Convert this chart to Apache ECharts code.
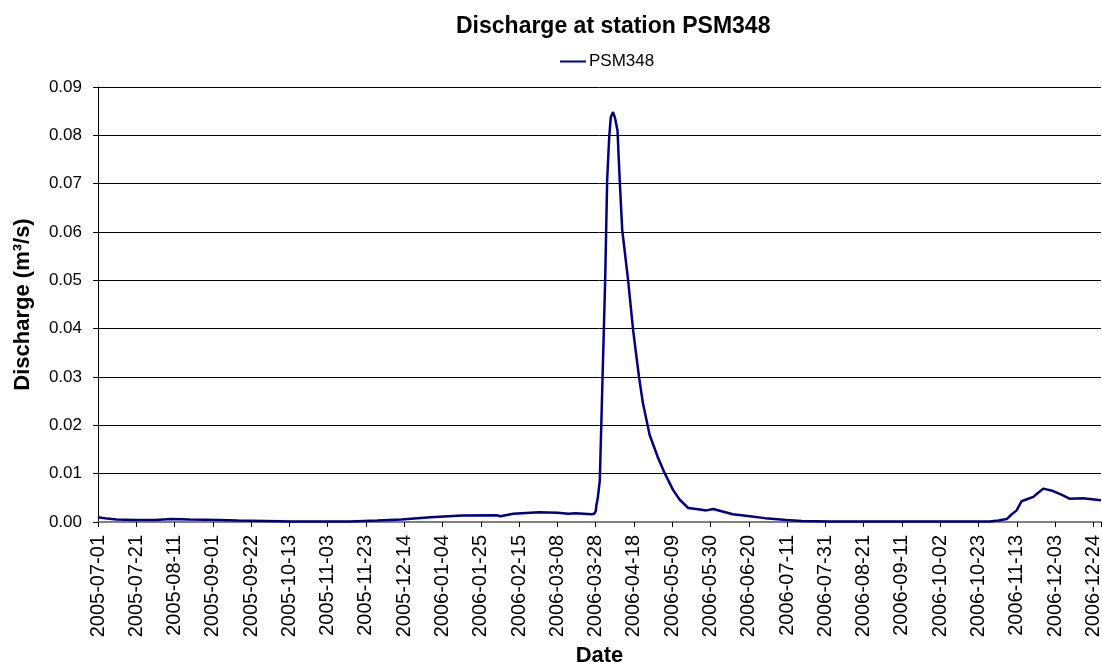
<!DOCTYPE html>
<html>
<head>
<meta charset="utf-8">
<title>Discharge at station PSM348</title>
<script src="https://cdn.jsdelivr.net/npm/echarts@6/dist/echarts.min.js"></script>
<style>
  html, body { margin: 0; padding: 0; background: #fff; }
  #chart { width: 1102px; height: 662px; }
</style>
</head>
<body>
<div id="chart"></div>
<script>
// readings (date "YYYY-MM-DD[ HH:MM]", m3/s)
const dates = [
  '2005-07-01', '2005-07-06', '2005-07-11', '2005-07-21', '2005-08-01',
  '2005-08-10', '2005-08-20', '2005-09-05', '2005-09-15', '2005-09-30',
  '2005-10-15', '2005-11-01', '2005-11-15', '2005-11-30', '2005-12-13',
  '2005-12-29', '2006-01-15', '2006-02-03', '2006-02-05', '2006-02-12',
  '2006-02-26', '2006-03-08', '2006-03-14', '2006-03-18', '2006-03-26 18:00',
  '2006-03-28 00:00', '2006-03-28 20:00', '2006-03-29 06:00', '2006-03-30 00:00', '2006-03-31 02:00',
  '2006-04-01 14:00', '2006-04-03 00:00', '2006-04-04 02:00', '2006-04-05 05:00', '2006-04-06 02:00',
  '2006-04-07 07:00', '2006-04-08 10:00', '2006-04-09 17:00', '2006-04-10 22:00', '2006-04-12 07:00',
  '2006-04-15 12:00', '2006-04-18 05:00', '2006-04-21 10:00', '2006-04-23 14:00', '2006-04-27 05:00',
  '2006-05-01 16:00', '2006-05-05 12:00', '2006-05-10 00:00', '2006-05-13 14:00', '2006-05-18 05:00',
  '2006-05-24 14:00', '2006-05-28', '2006-05-31 19:00', '2006-06-11 12:00', '2006-06-20 17:00',
  '2006-06-29', '2006-07-10 17:00', '2006-07-19', '2006-08-03', '2006-10-29',
  '2006-11-03', '2006-11-07 12:00', '2006-11-10', '2006-11-12 22:00', '2006-11-15 14:00',
  '2006-11-18 12:00', '2006-11-22', '2006-11-24 12:00', '2006-11-27 10:00', '2006-12-02 19:00',
  '2006-12-07 14:00', '2006-12-11 22:00', '2006-12-19', '2006-12-23 22:00', '2006-12-28 20:00'
]
const discharge = [
  0.0010, 0.0007, 0.0005, 0.0004, 0.0004,
  0.0006, 0.0005, 0.0004, 0.0003, 0.0002,
  0.0001, 0.0001, 0.0001, 0.0003, 0.0005,
  0.0010, 0.00135, 0.0014, 0.0012, 0.0017,
  0.0020, 0.0019, 0.0017, 0.0018, 0.0016,
  0.0017, 0.0022, 0.0035, 0.0050, 0.0086,
  0.0300, 0.0500, 0.0707, 0.0797, 0.0838,
  0.0848, 0.0835, 0.0810, 0.0707, 0.0604,
  0.0500, 0.0397, 0.0300, 0.0245, 0.0180,
  0.0134, 0.0100, 0.0066, 0.0046, 0.0029,
  0.0026, 0.0024, 0.0027, 0.0016, 0.0012,
  0.0008, 0.0004, 0.0002, 0.0001, 0.0001,
  0.0003, 0.0006, 0.0015, 0.0024, 0.0043,
  0.0047, 0.0052, 0.0060, 0.0069, 0.0064,
  0.0056, 0.0048, 0.0049, 0.0047, 0.0045
]

// category labels of the original axis, one every 500 hourly records
const tickLabels = [
  '2005-07-01', '2005-07-21', '2005-08-11', '2005-09-01', '2005-09-22', '2005-10-13',
  '2005-11-03', '2005-11-23', '2005-12-14', '2006-01-04', '2006-01-25', '2006-02-15',
  '2006-03-08', '2006-03-28', '2006-04-18', '2006-05-09', '2006-05-30', '2006-06-20',
  '2006-07-11', '2006-07-31', '2006-08-21', '2006-09-11', '2006-10-02', '2006-10-23',
  '2006-11-13', '2006-12-03', '2006-12-24'
]
const yTicks = [0, 0.01, 0.02, 0.03, 0.04, 0.05, 0.06, 0.07, 0.08, 0.09]

const FONT = '"Liberation Sans", Arial, sans-serif'
const HOURS_PER_TICK = 500

function toMs(s) {
  const [d, t] = s.split(' ')
  const [y, m, day] = d.split('-').map(Number)
  const [hh, mm] = (t || '00:00').split(':').map(Number)
  return Date.UTC(y, m - 1, day, hh, mm)
}

const t0 = toMs(dates[0])
const points = dates.map((d, i) => [(toMs(d) - t0) / 3600000, discharge[i]])

const chart = echarts.init(document.getElementById('chart'))

chart.setOption({
  animation: false,
  textStyle: { fontFamily: FONT },
  title: {
    text: 'Discharge at station PSM348',
    left: 456,
    top: 15,
    padding: 0,
    textStyle: { fontFamily: FONT, fontSize: 23, fontWeight: 'bold', color: '#000' }
  },
  legend: {
    data: [{ name: 'PSM348', icon: 'rect' }],
    left: 560,
    top: 53,
    padding: 0,
    itemWidth: 26,
    itemHeight: 2,
    itemGap: 4,
    textStyle: { fontFamily: FONT, fontSize: 17, color: '#000', padding: [0, 0, 0, -2] }
  },
  grid: { left: 98, right: 1, top: 87, bottom: 140, outerBoundsMode: 'none', containLabel: false },
  xAxis: {
    type: 'value',
    min: 0,
    max: 13100,
    interval: HOURS_PER_TICK,
    name: 'Date',
    nameLocation: 'middle',
    nameGap: 120,
    nameTextStyle: { fontFamily: FONT, fontSize: 22, fontWeight: 'bold', color: '#000' },
    axisLine: { lineStyle: { color: '#808080', width: 2 } },
    axisTick: { length: 5, lineStyle: { color: '#000' } },
    axisLabel: {
      rotate: 90,
      margin: 13,
      fontFamily: FONT,
      fontSize: 20,
      color: '#000',
      formatter: v => {
        const k = v / HOURS_PER_TICK
        return Number.isInteger(k) && tickLabels[k] ? tickLabels[k] : ''
      }
    },
    splitLine: { show: false }
  },
  yAxis: {
    type: 'value',
    min: yTicks[0],
    max: yTicks[yTicks.length - 1],
    interval: 0.01,
    name: 'Discharge (m³/s)',
    nameLocation: 'middle',
    nameGap: 64,
    nameTextStyle: { fontFamily: FONT, fontSize: 22, fontWeight: 'bold', color: '#000' },
    axisLine: { show: true, lineStyle: { color: '#000', width: 1 } },
    axisTick: { show: true, length: 5, lineStyle: { color: '#000' } },
    axisLabel: {
      margin: 16,
      fontFamily: FONT,
      fontSize: 17,
      color: '#000',
      formatter: v => v.toFixed(2)
    },
    splitLine: { show: true, lineStyle: { color: '#000', width: 1 } }
  },
  series: [
    {
      name: 'PSM348',
      type: 'line',
      data: points,
      showSymbol: false,
      symbol: 'none',
      itemStyle: { color: '#000080' },
      lineStyle: { color: '#000080', width: 2.5 }
    }
  ]
})
</script>
</body>
</html>
